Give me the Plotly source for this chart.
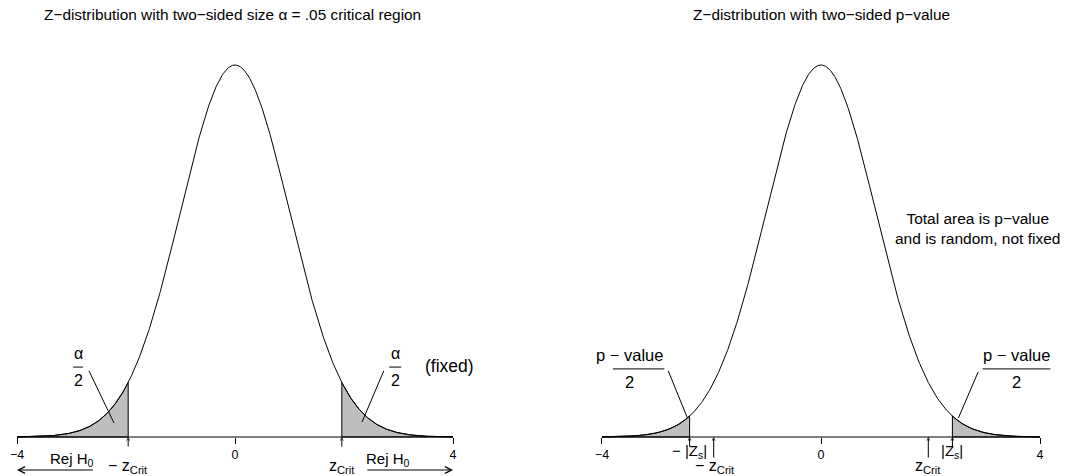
import numpy as np
import plotly.graph_objects as go

# ---------------- data ----------------
z_lo, z_hi = -4.0, 4.0          # plotted range of the Z axis
z_crit = 1.96                   # two-sided alpha = .05 critical value
z_s = 2.40                      # observed statistic (right panel)
tick_vals = [-4, 0, 4]
tick_text = ["\u22124", "0", "4"]
title_left = "Z\u2212distribution with two\u2212sided size \u03b1 = .05 critical region"
title_right = "Z\u2212distribution with two\u2212sided p\u2212value"

# standard normal density (the chart is the Z distribution)
z = np.linspace(z_lo, z_hi, 801)
dens = np.exp(-z ** 2 / 2) / np.sqrt(2 * np.pi)


def tail_poly(a, b):
    xs = np.linspace(a, b, 200)
    ys = np.exp(-xs ** 2 / 2) / np.sqrt(2 * np.pi)
    px = np.concatenate([[a], xs, [b, a]])
    py = np.concatenate([[0], ys, [0, 0]])
    return px, py


FONT = "Liberation Sans, Arial, Helvetica, sans-serif"
W, H = 1067, 476
GRAY = "#BEBEBE"

fig = go.Figure()


def add_panel(xa, ya, cut):
    for a, b in [(z_lo, -cut), (cut, z_hi)]:
        px, py = tail_poly(a, b)
        fig.add_trace(go.Scatter(x=px, y=py, mode="lines", fill="toself",
                                 fillcolor=GRAY, line=dict(color="black", width=1),
                                 xaxis=xa, yaxis=ya, hoverinfo="skip", showlegend=False))
    fig.add_trace(go.Scatter(x=[z_lo, z_hi], y=[0, 0], mode="lines",
                             line=dict(color="black", width=1),
                             xaxis=xa, yaxis=ya, hoverinfo="skip", showlegend=False))
    fig.add_trace(go.Scatter(x=z, y=dens, mode="lines",
                             line=dict(color="black", width=1),
                             xaxis=xa, yaxis=ya, hoverinfo="skip", showlegend=False))


add_panel("x", "y", z_crit)
add_panel("x2", "y2", z_s)

# axes: pixel-calibrated ranges
ax_pos = (H - 437) / H
yr = [-0.04182, 0.46864]
common_x = dict(showgrid=False, zeroline=False, showline=False, ticks="outside",
                ticklen=6, tickwidth=1, tickcolor="black", tickvals=tick_vals,
                ticktext=tick_text, tickfont=dict(family=FONT, size=12.5, color="black"),
                anchor="free", position=ax_pos, fixedrange=True)
common_y = dict(visible=False, range=yr, domain=[0, 1], fixedrange=True)

fig.update_layout(
    width=W, height=H, margin=dict(l=0, r=0, t=0, b=0),
    paper_bgcolor="white", plot_bgcolor="white", showlegend=False,
    xaxis=dict(domain=[0, 0.5], range=[-4.312, 5.477], **common_x),
    xaxis2=dict(domain=[0.5, 1], range=[-5.251, 4.493], **common_x),
    yaxis=dict(anchor="x", **common_y),
    yaxis2=dict(anchor="x2", **common_y),
)

annotations = []
shapes = []


def txt(x, y, s, size, xref, yref="y", **kw):
    annotations.append(dict(x=x, y=y, xref=xref, yref=yref, text=s, showarrow=False,
                            font=dict(family=FONT, size=size, color="black"),
                            xanchor="center", yanchor="middle", **kw))


def seg(x0, y0, x1, y1, xref, yref):
    shapes.append(dict(type="line", x0=x0, y0=y0, x1=x1, y1=y1, xref=xref, yref=yref,
                       line=dict(color="black", width=1)))


def arrow(x0, y0, x1, y1, xref, yref, size):
    annotations.append(dict(x=x1, y=y1, ax=x0, ay=y0, xref=xref, yref=yref,
                            axref=xref, ayref=yref, text="", showarrow=True,
                            arrowhead=5, arrowsize=size, arrowwidth=1,
                            arrowcolor="black", standoff=0, startstandoff=0))


# titles
txt(-0.05, 1 - 14 / H, title_left, 15.4, "x", "paper")
txt(0, 1 - 14 / H, title_right, 15.4, "x2", "paper")

# ---- left panel ----
for cx, bx0, bx1, p0, p1 in [(-2.88, -2.97, -2.79, (-2.68, 0.071), (-2.22, 0.015)),
                             (2.94, 2.83, 3.05, (2.73, 0.071), (2.33, 0.016))]:
    txt(cx, 0.090, "\u03b1", 16, "x")
    seg(bx0, 0.075, bx1, 0.075, "x", "y")
    txt(cx, 0.061, "2", 16, "x")
    seg(p0[0], p0[1], p1[0], p1[1], "x", "y")
txt(3.94, 0.076, "(fixed)", 17.5, "x")
txt(-2.99, -0.0236, "Rej H<sub>0</sub>", 15, "x")
txt(2.81, -0.0236, "Rej H<sub>0</sub>", 15, "x")
arrow(-2.58, -0.0354, z_lo, -0.0354, "x", "y", 1.3)
arrow(2.40, -0.0354, z_hi, -0.0354, "x", "y", 1.3)
txt(-z_crit, -0.032, "\u2212 z<sub>Crit</sub>", 16, "x")
txt(z_crit, -0.032, "z<sub>Crit</sub>", 16, "x")
arrow(-z_crit, -0.0118, -z_crit, 0, "x", "y", 0.6)
arrow(z_crit, -0.0118, z_crit, 0, "x", "y", 0.6)

# ---- right panel ----
for cx, bx0, bx1, p0, p1 in [(-3.50, -3.80, -2.86, (-2.79, 0.071), (-2.44, 0.0204)),
                             (3.57, 2.95, 4.19, (2.87, 0.0697), (2.51, 0.0204))]:
    txt(cx, 0.088, "p \u2212 value", 16.5, "x2", "y2")
    seg(bx0, 0.073, bx1, 0.073, "x2", "y2")
    txt(cx, 0.059, "2", 16.5, "x2", "y2")
    seg(p0[0], p0[1], p1[0], p1[1], "x2", "y2")
txt(2.86, 0.2236, "Total area is p\u2212value<br>and is random, not fixed", 15.5, "x2", "y2")
txt(-z_s, -0.0160, "\u2212 |Z<sub>s</sub>|", 15, "x2", "y2")
txt(z_s, -0.0160, "|Z<sub>s</sub>|", 15, "x2", "y2")
txt(-z_crit + 0.03, -0.0320, "\u2212 z<sub>Crit</sub>", 16, "x2", "y2")
txt(z_crit, -0.0320, "z<sub>Crit</sub>", 16, "x2", "y2")
arrow(-z_s, -0.0118, -z_s, 0, "x2", "y2", 0.6)
arrow(z_s, -0.0118, z_s, 0, "x2", "y2", 0.6)
arrow(-z_crit, -0.0236, -z_crit, 0, "x2", "y2", 0.6)
arrow(z_crit, -0.0236, z_crit, 0, "x2", "y2", 0.6)

fig.update_layout(annotations=annotations, shapes=shapes)
fig.write_html("out.html",
               config={"displayModeBar": False, "staticPlot": True},
               post_script="document.body.style.margin='0';"
                           "document.body.style.overflow='hidden';")
